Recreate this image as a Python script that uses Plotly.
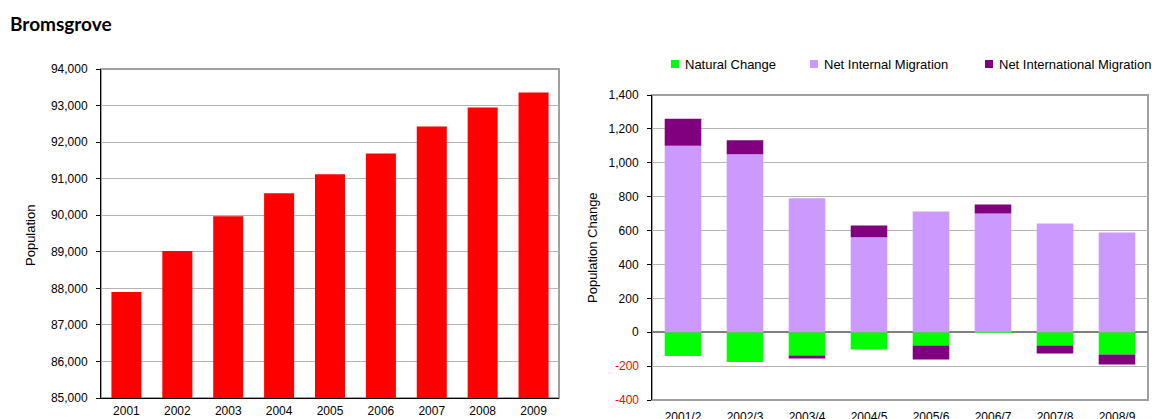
import plotly.graph_objects as go

W, H = 1152, 419

# ---- data ----
years = ["2001", "2002", "2003", "2004", "2005", "2006", "2007", "2008", "2009"]
population = [87900, 89020, 89975, 90600, 91120, 91690, 92430, 92950, 93360]

periods = ["2001/2", "2002/3", "2003/4", "2004/5", "2005/6", "2006/7", "2007/8", "2008/9"]
natural_change = [-141, -176, -137, -102, -78, -3, -78, -131]
net_internal = [1100, 1050, 790, 560, 712, 700, 642, 588]
net_international = [160, 83, -18, 70, -83, 54, -47, -59]

left_ticks = [85000, 86000, 87000, 88000, 89000, 90000, 91000, 92000, 93000, 94000]
right_ticks = [-400, -200, 0, 200, 400, 600, 800, 1000, 1200, 1400]

series_names = ["Natural Change", "Net Internal Migration", "Net International Migration"]
series_colors = ["#00FF00", "#CC99FF", "#800080"]

FONT = "Liberation Sans, Arial, sans-serif"


def px_x(p):
    return p / W


def px_y(p):
    return 1 - p / H


fig = go.Figure()

fig.add_trace(go.Bar(x=years, y=population, marker_color="#FF0000",
                     marker_line_width=0, xaxis="x", yaxis="y", showlegend=False))

for name, vals, col in zip(series_names, [natural_change, net_internal, net_international], series_colors):
    fig.add_trace(go.Bar(x=periods, y=vals, name=name, marker_color=col,
                         marker_line_width=0, xaxis="x2", yaxis="y2", showlegend=False))

# right axis: positive labels black on the axis, negative labels red as annotations
pos_text = [f"{v:,}" if v >= 0 else "" for v in right_ticks]
neg_vals = [v for v in right_ticks if v < 0]

grid = "#B4B4B4"
border = "#A0A0A0"

fig.update_layout(
    width=W, height=H,
    margin=dict(l=0, r=0, t=0, b=0, pad=0),
    paper_bgcolor="white", plot_bgcolor="white",
    barmode="relative",
    bargap=0.41,
    showlegend=False,
    font=dict(family=FONT, size=12, color="#000000"),
    xaxis=dict(domain=[px_x(101), px_x(559)], anchor="y", showline=True, linecolor="#000000",
               linewidth=1, ticks="outside", ticklen=2, tickcolor="rgba(0,0,0,0)",
               tickfont=dict(size=12), showgrid=False, automargin=False),
    yaxis=dict(domain=[px_y(398), px_y(69)], anchor="x", range=[85000, 94000],
               tickvals=left_ticks, tickformat=",", showline=True, linecolor="#000000",
               linewidth=1, ticks="outside", ticklen=4, tickcolor="#000000",
               ticklabelstandoff=6, automargin=False,
               showgrid=True, gridcolor=grid, gridwidth=1, zeroline=False, tickfont=dict(size=12)),
    xaxis2=dict(domain=[px_x(652), px_x(1148)], anchor="y2", showline=False,
                ticks="outside", ticklen=6, tickcolor="rgba(0,0,0,0)",
                tickfont=dict(size=12), showgrid=False, automargin=False),
    yaxis2=dict(domain=[px_y(400), px_y(95)], anchor="x2", range=[-400, 1400],
                tickvals=right_ticks, ticktext=pos_text, showline=True, linecolor="#000000",
                linewidth=1, ticks="outside", ticklen=4, tickcolor="#000000",
                ticklabelstandoff=6, automargin=False,
                showgrid=True, gridcolor=grid, gridwidth=1, zeroline=True, zerolinecolor="#808080",
                zerolinewidth=2, tickfont=dict(size=12)),
)

shapes = [
    dict(type="rect", xref="x domain", yref="y domain", x0=0, x1=1, y0=0, y1=1,
         line=dict(color=border, width=2), layer="below"),
    dict(type="rect", xref="x2 domain", yref="y2 domain", x0=0, x1=1, y0=0, y1=1,
         line=dict(color=border, width=2), layer="below"),
]

annotations = [
    dict(text="<b>Bromsgrove</b>", x=px_x(8), y=px_y(24), xref="paper", yref="paper",
         xanchor="left", yanchor="middle", showarrow=False,
         font=dict(family="Lato, Liberation Sans, sans-serif", size=19, color="#000000")),
    dict(text="Population", x=px_x(30), y=px_y(236), xref="paper", yref="paper",
         textangle=-90, showarrow=False, xanchor="center", yanchor="middle",
         font=dict(size=13)),
    dict(text="Population Change", x=px_x(593), y=px_y(248), xref="paper", yref="paper",
         textangle=-90, showarrow=False, xanchor="center", yanchor="middle",
         font=dict(size=13)),
]

for v in neg_vals:
    annotations.append(dict(text=f"{v:,}", x=px_x(641), y=v, xref="paper", yref="y2",
                            xanchor="right", yanchor="middle", showarrow=False,
                            xshift=0, font=dict(size=12, color="#FF0000")))

legend_x = [671, 810, 985]
for name, col, lx in zip(series_names, series_colors, legend_x):
    shapes.append(dict(type="rect", xref="paper", yref="paper",
                       x0=px_x(lx), x1=px_x(lx + 8), y0=px_y(68), y1=px_y(60),
                       fillcolor=col, line=dict(width=0)))
    annotations.append(dict(text=name, x=px_x(lx + 12), y=px_y(64), xref="paper", yref="paper",
                            xanchor="left", yanchor="middle", showarrow=False,
                            font=dict(size=13)))

fig.update_layout(shapes=shapes, annotations=annotations)

fig.write_html("out.html")
